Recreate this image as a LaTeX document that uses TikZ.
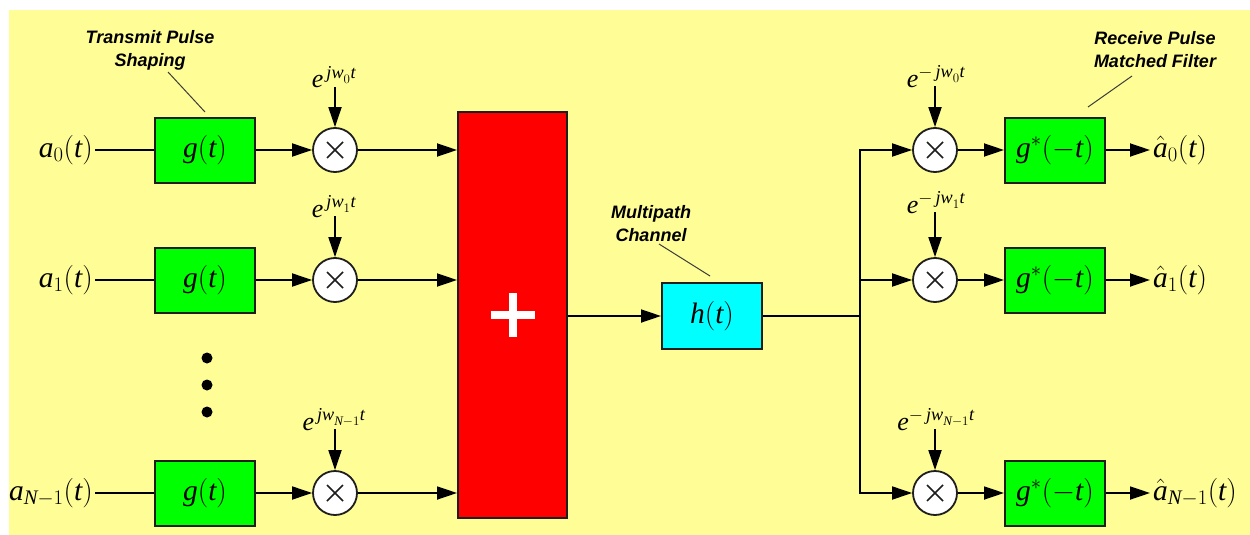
\RequirePackage{fix-cm}
\documentclass[tikz,border=0pt]{standalone}
\usepackage{fontspec}
\setmainfont{Liberation Serif}
\newfontfamily\annfont{Liberation Sans}
\usetikzlibrary{arrows.meta,calc}
\definecolor{bgyel}{RGB}{255,253,150}
\definecolor{gbox}{RGB}{0,255,0}
\definecolor{rbox}{RGB}{255,0,0}
\definecolor{cbox}{RGB}{0,255,255}
\definecolor{edge}{RGB}{30,30,30}
\definecolor{pointer}{RGB}{60,60,60}
\newcommand\lblfont{\fontsize{29.5}{32}\selectfont}
\newcommand\expfont{\fontsize{26}{28}\selectfont}
\newcommand\annsize{\annfont\bfseries\itshape\fontsize{18}{23}\selectfont}
\tikzset{
  wire/.style={line width=1.8pt, draw=black},
  arr/.style={wire, -{Triangle[length=20pt,width=13pt]}},
  blk/.style={draw=edge, line width=2pt, minimum width=100pt, minimum height=65pt, inner sep=0pt, font=\lblfont},
  gblk/.style={blk, fill=gbox},
  mult/.style={circle, draw=edge, line width=1.8pt, fill=white, minimum size=44pt, inner sep=0pt,
    path picture={
      \draw[line width=1.6pt] ($(path picture bounding box.center)+(-8,-8)$) -- ($(path picture bounding box.center)+(8,8)$);
      \draw[line width=1.6pt] ($(path picture bounding box.center)+(-8,8)$) -- ($(path picture bounding box.center)+(8,-8)$);
    }},
  expo/.style={font=\expfont, inner sep=0pt, anchor=base},
  inlbl/.style={font=\lblfont, inner sep=2pt, anchor=east},
  outlbl/.style={font=\lblfont, inner sep=3pt, anchor=west},
  ann/.style={font=\annsize, align=center, inner sep=0pt},
  annline/.style={draw=pointer, line width=1pt},
  dotmark/.style={circle, fill=black, inner sep=0pt, minimum size=11pt},
}
\begin{document}
\begin{tikzpicture}[x=1pt,y=-1pt]
\useasboundingbox (0,0) rectangle (1250,535);
\fill[bgyel] (9,10) rectangle (1250,535);

% ---- transmitter rows
\foreach \r/\y/\eb/\sub in {0/150/88/0, 1/280/217/1, N/493/430/{\mathit{N}{-}1}} {
  \node[inlbl] (a\r) at (95,\y) {$\mathit{a}_{\sub}(\mathit{t})$};
  \node[gblk] (g\r) at (205,\y) {$\mathit{g}(\mathit{t})$};
  \node[mult] (m\r) at (335,\y) {};
  \node[expo] (e\r) at (334,\eb) {$\mathit{e}^{\,\mathit{jw}_{\sub}\mathit{t}}$};
}
\node[dotmark] (d1) at (207,358) {};
\node[dotmark] (d2) at (207,385) {};
\node[dotmark] (d3) at (207,412) {};

% ---- summation and channel
\node[draw=edge, line width=2pt, fill=rbox, minimum width=109pt, minimum height=406pt, inner sep=0pt] (sum) at (512.5,315) {};
\draw[white, line width=8pt] ($(sum.center)+(-22,0)$) -- ($(sum.center)+(22,0)$);
\draw[white, line width=8pt] ($(sum.center)+(0,-22)$) -- ($(sum.center)+(0,22)$);
\node[blk, fill=cbox, minimum height=66pt] (h) at (712,316) {$\mathit{h}(\mathit{t})$};
\coordinate (sp) at (860,316);

% ---- receiver rows
\foreach \r/\y/\eb/\sub in {0/150/87/0, 1/280/213/1, N/493/430/{\mathit{N}{-}1}} {
  \node[mult] (q\r) at (935,\y) {};
  \node[expo] (x\r) at (936,\eb) {$\mathit{e}^{-\,\mathit{jw}_{\sub}\mathit{t}}$};
  \node[gblk] (f\r) at (1055,\y) {$\mathit{g}^{*}(-\mathit{t})$};
  \node[outlbl] (o\r) at (1150,\y) {$\hat{\mathit{a}}_{\sub}(\mathit{t})$};
}

% ---- connectors
\foreach \r in {0,1,N} {
  \draw[wire] (a\r) -- (g\r);
  \draw[arr] (g\r) -- (m\r);
  \draw[arr] ($(e\r.base)+(1,-1)$) -- (m\r.north);
  \draw[arr] (m\r) -- (m\r -| sum.west);
  \draw[arr] ($(x\r.base)+(-1,-1)$) -- (q\r.north);
  \draw[arr] (q\r) -- (f\r);
  \draw[arr] (f\r) -- (o\r.west);
}
\draw[arr] (sum.east |- h) -- (h);
\draw[wire] (h) -- (sp);
\draw[arr] (sp) |- (q0);
\draw[arr] (sp) |- (qN);
\draw[arr] (sp |- q1) -- (q1);

% ---- annotations
\node[ann] (tp) at (150,50) {Transmit Pulse\\Shaping};
\node[ann] (mc) at (651,224) {Multipath\\Channel};
\node[ann] (rp) at (1155,50) {Receive Pulse\\Matched Filter};
\coordinate (tpa) at (168,72);
\coordinate (tpb) at (205,112);
\coordinate (mca) at (659,244);
\coordinate (mcb) at (710,276);
\coordinate (rpa) at (1132,76);
\coordinate (rpb) at (1088,107);
\draw[annline] (tpa) -- (tpb);
\draw[annline] (mca) -- (mcb);
\draw[annline] (rpa) -- (rpb);
\end{tikzpicture}
\end{document}
